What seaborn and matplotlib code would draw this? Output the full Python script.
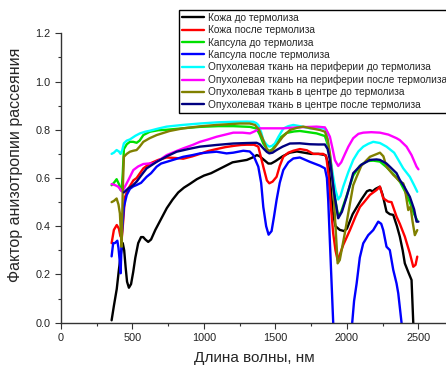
import matplotlib
matplotlib.use("Agg")
import matplotlib.pyplot as plt
import seaborn as sns
import numpy as np

# --- data (wavelength, nm / anisotropy factor) ---
labels = [
    "Кожа до термолиза",
    "Кожа после термолиза",
    "Капсула до термолиза",
    "Капсула после термолиза",
    "Опухолевая ткань на периферии до термолиза",
    "Опухолевая ткань на периферии после термолиза",
    "Опухолевая ткань в центре до термолиза",
    "Опухолевая ткань в центре после термолиза",
]
colors = ["#000000", "#FF0000", "#00E000", "#0000FF",
          "#00FFFF", "#FF00FF", "#808000", "#000080"]

wl_skin_before = [354, 370, 390, 405, 420, 432, 442, 452, 462, 475, 490, 505, 520, 540, 560, 575,
                  590, 610, 630, 660, 700, 740, 780, 820, 860, 900, 950, 1000, 1050, 1100, 1150,
                  1200, 1250, 1300, 1340, 1370, 1390, 1420, 1450, 1470, 1500, 1550, 1600, 1650,
                  1700, 1750, 1800, 1850, 1870, 1885, 1900, 1920, 1950, 1980, 2000, 2040, 2070,
                  2100, 2140, 2160, 2180, 2200, 2230, 2250, 2277, 2300, 2324, 2350, 2370, 2390,
                  2405, 2429, 2452, 2464, 2480]
g_skin_before = [0.01, 0.07, 0.14, 0.22, 0.29, 0.33, 0.30, 0.23, 0.17, 0.145, 0.16, 0.21, 0.27, 0.33,
                 0.355, 0.355, 0.345, 0.335, 0.345, 0.385, 0.43, 0.475, 0.51, 0.54, 0.56, 0.575,
                 0.595, 0.61, 0.62, 0.635, 0.65, 0.665, 0.67, 0.675, 0.685, 0.695, 0.69, 0.675,
                 0.66, 0.66, 0.67, 0.69, 0.705, 0.71, 0.705, 0.70, 0.70, 0.695, 0.66, 0.57, 0.46,
                 0.40, 0.385, 0.38, 0.39, 0.45, 0.48, 0.51, 0.545, 0.55, 0.545, 0.555, 0.564, 0.53,
                 0.46, 0.45, 0.447, 0.40, 0.357, 0.30, 0.246, 0.21, 0.177, 0.0, -0.1]

wl_skin_after = [354, 370, 390, 405, 415, 425, 435, 447, 470, 506, 529, 576, 622, 680, 739, 800,
                 855, 920, 972, 1030, 1088, 1150, 1205, 1260, 1300, 1350, 1380, 1415, 1440, 1457,
                 1480, 1508, 1530, 1555, 1590, 1625, 1671, 1720, 1765, 1800, 1834, 1855, 1870,
                 1885, 1904, 1920, 1935, 1955, 1974, 2021, 2060, 2091, 2120, 2161, 2207, 2231,
                 2254, 2289, 2312, 2347, 2370, 2405, 2440, 2464, 2480, 2492]
g_skin_after = [0.33, 0.385, 0.405, 0.39, 0.36, 0.35, 0.42, 0.52, 0.555, 0.59, 0.60, 0.64, 0.66,
                0.675, 0.685, 0.683, 0.68, 0.69, 0.70, 0.712, 0.72, 0.728, 0.733, 0.737, 0.738,
                0.738, 0.73, 0.647, 0.59, 0.578, 0.585, 0.605, 0.65, 0.688, 0.705, 0.713, 0.72,
                0.715, 0.70, 0.70, 0.70, 0.69, 0.62, 0.50, 0.37, 0.30, 0.26, 0.29, 0.322, 0.384,
                0.44, 0.48, 0.50, 0.53, 0.55, 0.564, 0.516, 0.502, 0.50, 0.44, 0.41, 0.357, 0.288,
                0.232, 0.24, 0.274]

wl_caps_before = [354, 370, 389, 405, 417, 424, 432, 440, 460, 482, 505, 529, 550, 576, 622, 680,
                  739, 850, 972, 1100, 1205, 1322, 1368, 1390, 1415, 1440, 1457, 1480, 1508, 1540,
                  1578, 1630, 1671, 1730, 1788, 1846, 1865, 1881, 1900, 1916, 1939, 1960, 2000,
                  2044, 2090, 2140, 2184, 2231, 2277, 2335, 2370, 2410, 2440, 2470, 2492]
g_caps_before = [0.57, 0.58, 0.595, 0.575, 0.55, 0.55, 0.62, 0.72, 0.74, 0.75, 0.75, 0.746, 0.755,
                 0.778, 0.792, 0.798, 0.80, 0.806, 0.812, 0.815, 0.815, 0.812, 0.805, 0.78, 0.743,
                 0.72, 0.712, 0.72, 0.743, 0.77, 0.787, 0.793, 0.795, 0.79, 0.785, 0.774, 0.74,
                 0.688, 0.6, 0.52, 0.44, 0.46, 0.53, 0.61, 0.65, 0.67, 0.672, 0.668, 0.645, 0.61,
                 0.585, 0.54, 0.50, 0.45, 0.424]

wl_caps_after = [354, 365, 377, 394, 402, 410, 417, 426, 440, 460, 482, 505, 529, 560, 599, 630,
                 669, 700, 739, 800, 855, 920, 972, 1030, 1088, 1158, 1205, 1275, 1320, 1345, 1380,
                 1400, 1415, 1435, 1452, 1473, 1490, 1508, 1530, 1555, 1590, 1625, 1671, 1741,
                 1811, 1846, 1860, 1869, 1888, 1904, 1915, 2030, 2037, 2050, 2068, 2090, 2114, 2149,
                 2184, 2219, 2240, 2254, 2277, 2300, 2324, 2347, 2359, 2382, 2395]
g_caps_after = [0.275, 0.33, 0.33, 0.34, 0.31, 0.26, 0.205, 0.37, 0.48, 0.53, 0.555, 0.565, 0.571,
                0.58, 0.605, 0.62, 0.647, 0.66, 0.667, 0.678, 0.688, 0.695, 0.702, 0.706, 0.709,
                0.702, 0.705, 0.713, 0.71, 0.695, 0.647, 0.58, 0.48, 0.40, 0.365, 0.38, 0.44,
                0.509, 0.58, 0.633, 0.665, 0.681, 0.685, 0.667, 0.651, 0.64, 0.60, 0.509, 0.232,
                0.0, -0.1, -0.1, 0.0, 0.09, 0.163, 0.27, 0.329, 0.363, 0.384, 0.419, 0.41, 0.384,
                0.315, 0.301, 0.219, 0.163, 0.122, 0.0, -0.1]

wl_tum_edge_before = [354, 370, 389, 405, 417, 428, 440, 460, 482, 520, 552, 590, 622, 680, 739,
                      850, 972, 1100, 1205, 1300, 1345, 1365, 1380, 1400, 1415, 1440, 1457, 1475,
                      1496, 1520, 1555, 1590, 1625, 1671, 1741, 1811, 1834, 1855, 1869, 1885,
                      1904, 1920, 1939, 1955, 1974, 2010, 2044, 2080, 2114, 2150, 2184, 2231,
                      2277, 2330, 2347, 2394, 2440, 2470, 2492]
g_tum_edge_before = [0.70, 0.705, 0.716, 0.71, 0.70, 0.715, 0.744, 0.755, 0.76, 0.775, 0.785, 0.792,
                     0.796, 0.805, 0.813, 0.82, 0.826, 0.831, 0.833, 0.834, 0.833, 0.828, 0.82,
                     0.79, 0.757, 0.737, 0.73, 0.733, 0.743, 0.77, 0.805, 0.815, 0.82, 0.815,
                     0.806, 0.806, 0.806, 0.80, 0.743, 0.68, 0.605, 0.55, 0.511, 0.525, 0.564,
                     0.625, 0.675, 0.71, 0.73, 0.742, 0.75, 0.745, 0.73, 0.705, 0.688, 0.64,
                     0.605, 0.57, 0.543]

wl_tum_edge_after = [354, 380, 400, 412, 424, 435, 447, 470, 506, 540, 576, 610, 645, 690, 739,
                     800, 855, 920, 972, 1030, 1088, 1150, 1205, 1270, 1322, 1360, 1391, 1450,
                     1555, 1650, 1788, 1846, 1865, 1881, 1900, 1916, 1939, 1960, 1988, 2010, 2044,
                     2080, 2114, 2170, 2231, 2290, 2347, 2370, 2417, 2452, 2487, 2500]
g_tum_edge_after = [0.575, 0.57, 0.564, 0.555, 0.545, 0.55, 0.564, 0.59, 0.633, 0.648, 0.658, 0.66,
                    0.66, 0.675, 0.695, 0.71, 0.723, 0.737, 0.75, 0.76, 0.771, 0.78, 0.788, 0.788,
                    0.785, 0.795, 0.806, 0.806, 0.806, 0.81, 0.813, 0.81, 0.79, 0.771, 0.72, 0.674,
                    0.65, 0.665, 0.702, 0.73, 0.765, 0.783, 0.788, 0.79, 0.788, 0.78, 0.765, 0.757,
                    0.73, 0.695, 0.647, 0.636]

wl_tum_core_before = [354, 370, 389, 402, 412, 418, 424, 432, 440, 460, 482, 505, 529, 550, 576,
                      620, 669, 760, 855, 970, 1088, 1170, 1252, 1320, 1357, 1385, 1415, 1440,
                      1457, 1480, 1508, 1550, 1601, 1650, 1694, 1750, 1811, 1846, 1865, 1881,
                      1904, 1920, 1935, 1950, 1963, 1985, 2009, 2044, 2068, 2100, 2138, 2161,
                      2207, 2231, 2255, 2277, 2324, 2347, 2370, 2394, 2405, 2429, 2445, 2459,
                      2475, 2492]
g_tum_core_before = [0.50, 0.505, 0.515, 0.49, 0.453, 0.38, 0.315, 0.55, 0.688, 0.70, 0.709, 0.713,
                     0.716, 0.73, 0.75, 0.765, 0.778, 0.795, 0.806, 0.814, 0.82, 0.823, 0.826,
                     0.826, 0.82, 0.80, 0.757, 0.72, 0.709, 0.715, 0.737, 0.77, 0.799, 0.808,
                     0.813, 0.806, 0.799, 0.792, 0.76, 0.702, 0.564, 0.40, 0.246, 0.26, 0.301,
                     0.37, 0.453, 0.57, 0.605, 0.65, 0.674, 0.688, 0.699, 0.705, 0.69, 0.647,
                     0.613, 0.60, 0.585, 0.578, 0.557, 0.467, 0.481, 0.42, 0.363, 0.384]

wl_tum_core_after = [440, 452, 471, 500, 529, 560, 599, 630, 669, 740, 809, 890, 972, 1088, 1205,
                     1300, 1368, 1390, 1415, 1440, 1457, 1480, 1508, 1550, 1601, 1670, 1741, 1800,
                     1846, 1865, 1881, 1895, 1911, 1939, 1965, 1998, 2044, 2068, 2100, 2138, 2161,
                     2207, 2231, 2277, 2300, 2347, 2370, 2400, 2440, 2470, 2487, 2500]
g_tum_core_after = [0.54, 0.547, 0.557, 0.568, 0.585, 0.61, 0.64, 0.652, 0.667, 0.69, 0.709, 0.72,
                    0.73, 0.737, 0.743, 0.745, 0.746, 0.74, 0.723, 0.708, 0.702, 0.705, 0.716,
                    0.73, 0.743, 0.744, 0.74, 0.739, 0.739, 0.72, 0.674, 0.61, 0.536, 0.433,
                    0.46, 0.522, 0.62, 0.635, 0.655, 0.667, 0.675, 0.677, 0.675, 0.66, 0.647,
                    0.62, 0.592, 0.565, 0.522, 0.47, 0.419, 0.419]

series = [
    (wl_skin_before, g_skin_before),
    (wl_skin_after, g_skin_after),
    (wl_caps_before, g_caps_before),
    (wl_caps_after, g_caps_after),
    (wl_tum_edge_before, g_tum_edge_before),
    (wl_tum_edge_after, g_tum_edge_after),
    (wl_tum_core_before, g_tum_core_before),
    (wl_tum_core_after, g_tum_core_after),
]

sns.set_style("ticks")
plt.rcParams['font.family'] = ['Liberation Sans', 'DejaVu Sans']

fig = plt.figure(figsize=(4.46, 3.67), dpi=100)
ax = fig.add_axes([61 / 446, 1 - 322.7 / 367, 386 / 446, 289.4 / 367])

for (wl, g), lab, col in zip(series, labels, colors):
    sns.lineplot(x=wl, y=g, ax=ax, color=col, label=lab, linewidth=1.7, sort=False)

ax.set_xlim(0, 2700)
ax.set_ylim(0, 1.2)
ax.set_xticks([0, 500, 1000, 1500, 2000, 2500])
ax.set_xticks(np.arange(250, 2700, 500), minor=True)
ax.set_yticks([0.0, 0.2, 0.4, 0.6, 0.8, 1.0, 1.2])
ax.set_yticks(np.arange(0.1, 1.2, 0.2), minor=True)
ax.set_yticklabels(["0.0", "0.2", "0.4", "0.6", "0.8", "1.0", "1.2"])
ax.tick_params(which='major', direction='out', length=4, width=0.8, labelsize=7.8,
               color='#333333', labelcolor='#222222')
ax.tick_params(which='minor', direction='out', length=2.5, width=0.8, color='#333333')
for s in ['left', 'bottom']:
    ax.spines[s].set_color('#333333')
    ax.spines[s].set_linewidth(1.0)
sns.despine(ax=ax)

ax.set_xlabel("Длина волны, нм", fontsize=11, labelpad=6)
ax.set_ylabel("Фактор анизотропии рассеяния", fontsize=11.5)
ax.yaxis.set_label_coords(-0.098, 0.545)

handles, labs = ax.get_legend_handles_labels()
ax.get_legend().remove()
leg = fig.legend(handles, labs, loc='upper left', bbox_to_anchor=(179 / 446, 1 - 10 / 367),
                 fontsize=7.3, frameon=True, fancybox=False, framealpha=1, edgecolor='black',
                 handlelength=2.2, handletextpad=0.4, labelspacing=0.22, borderpad=0.3,
                 borderaxespad=0)
leg.get_frame().set_linewidth(1.0)

fig.savefig("out.png", dpi=100)
